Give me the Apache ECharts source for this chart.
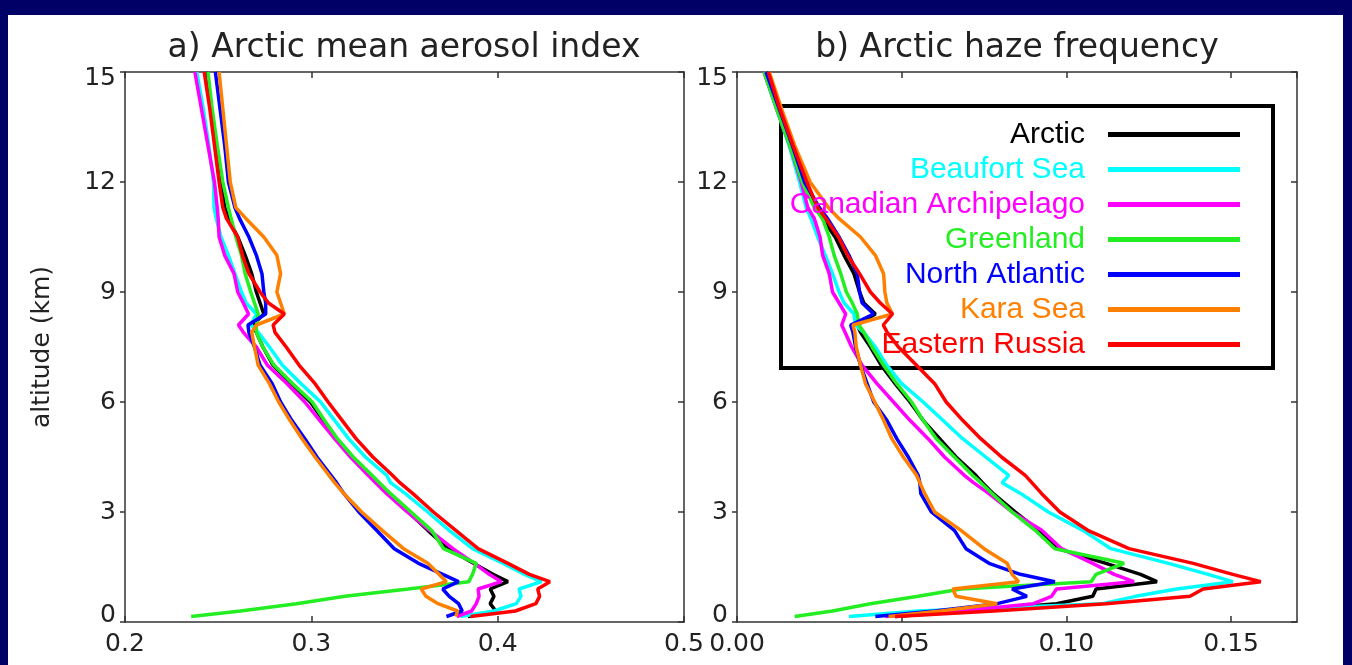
<!DOCTYPE html>
<html>
<head>
<meta charset="utf-8">
<script src="https://cdn.jsdelivr.net/npm/echarts@6/dist/echarts.min.js"></script>
<style>
html,body{margin:0;padding:0;background:#000066;width:1352px;height:665px;overflow:hidden}
#paper{position:absolute;left:8px;top:15px;width:1335px;height:650px;background:#ffffff}
#chart{position:absolute;left:0;top:0;width:1352px;height:665px}
</style>
</head>
<body>
<div id="paper"></div>
<div id="chart"></div>
<script>
// ---- data ----
const ALTITUDE_KM = [15, 14, 13, 12, 11.3, 11, 10.5, 10, 9.5, 9, 8.7, 8.4, 8.1, 7.9, 7.5, 7, 6.5, 6, 5.5, 5, 4.5, 4, 3.8, 3.5, 3, 2.5, 2, 1.6, 1.3, 1.1, 0.9, 0.7, 0.5, 0.3, 0.15];

const REGION_NAMES = ['Arctic', 'Beaufort Sea', 'Canadian Archipelago', 'Greenland', 'North Atlantic', 'Kara Sea', 'Eastern Russia'];
const REGION_COLORS = ['#000000', '#00ffff', '#ff00ff', '#22ee22', '#0000ff', '#ff8000', '#ff0000'];

// a) Arctic mean aerosol index
const AI_ARCTIC    = [0.2435,0.2462,0.249,0.2515,0.2535,0.2555,0.2605,0.2645,0.268,0.2705,0.2725,0.2745,0.2685,0.2705,0.274,0.2795,0.2895,0.2995,0.3065,0.3135,0.322,0.331,0.335,0.341,0.352,0.3625,0.3735,0.387,0.3975,0.4055,0.396,0.398,0.396,0.399,0.384];
const AI_BEAUFORT  = [0.2385,0.242,0.245,0.2475,0.2478,0.249,0.2515,0.2555,0.259,0.2625,0.265,0.2705,0.2675,0.2715,0.2775,0.2845,0.2945,0.305,0.3125,0.32,0.329,0.3405,0.3425,0.3505,0.3625,0.374,0.3865,0.403,0.4145,0.4235,0.4115,0.4125,0.41,0.398,0.38];
const AI_CANADIAN  = [0.2375,0.241,0.2445,0.248,0.2495,0.25,0.2505,0.2535,0.2585,0.2605,0.2635,0.2663,0.2609,0.2635,0.2705,0.2765,0.287,0.2965,0.3045,0.3125,0.321,0.3305,0.3345,0.3405,0.3515,0.3635,0.376,0.3875,0.3955,0.402,0.3895,0.39,0.3885,0.386,0.378];
const AI_GREENLAND = [0.2445,0.2468,0.2495,0.2525,0.2555,0.257,0.2595,0.2625,0.2645,0.2675,0.2695,0.2715,0.2705,0.2705,0.274,0.28,0.29,0.3005,0.307,0.314,0.3225,0.3325,0.3365,0.3425,0.3535,0.3645,0.371,0.3885,0.3865,0.3845,0.352,0.318,0.292,0.262,0.2355];
const AI_NATLANTIC = [0.2485,0.251,0.2535,0.2555,0.259,0.2615,0.2665,0.2705,0.2735,0.2745,0.2755,0.2755,0.266,0.2665,0.2695,0.2725,0.279,0.2835,0.2895,0.2965,0.303,0.3105,0.3135,0.3175,0.3255,0.335,0.3445,0.3575,0.3705,0.379,0.3705,0.374,0.379,0.381,0.3725];
const AI_KARA      = [0.2505,0.2525,0.2545,0.2565,0.2595,0.265,0.2745,0.2815,0.2835,0.2815,0.2835,0.2855,0.2705,0.268,0.2695,0.2715,0.2775,0.2825,0.2885,0.295,0.302,0.3095,0.3125,0.3175,0.327,0.338,0.3495,0.3625,0.3685,0.3725,0.359,0.3615,0.368,0.3785,0.3775];
const AI_ERUSSIA   = [0.2425,0.2455,0.248,0.2505,0.2525,0.2545,0.2605,0.263,0.2665,0.2725,0.277,0.2855,0.2795,0.2805,0.2865,0.2935,0.302,0.309,0.3165,0.324,0.333,0.3435,0.3475,0.3545,0.3655,0.3775,0.3895,0.4055,0.417,0.428,0.4215,0.4225,0.4205,0.4095,0.3855];

// b) Arctic haze frequency
const HF_ARCTIC    = [0.0088,0.0125,0.0165,0.0205,0.024,0.026,0.0298,0.0325,0.0355,0.0372,0.0385,0.042,0.0365,0.0375,0.0405,0.0438,0.048,0.0525,0.0565,0.0615,0.0665,0.0725,0.0745,0.0778,0.0845,0.0915,0.0975,0.112,0.1225,0.1275,0.109,0.108,0.097,0.07,0.048];
const HF_BEAUFORT  = [0.0082,0.012,0.0158,0.019,0.021,0.0225,0.0245,0.0268,0.029,0.031,0.0325,0.0355,0.036,0.0385,0.042,0.0455,0.05,0.0565,0.0625,0.0685,0.0755,0.0825,0.0805,0.0862,0.0945,0.105,0.1135,0.131,0.143,0.1505,0.1335,0.121,0.111,0.055,0.034];
const HF_CANADIAN  = [0.0082,0.012,0.016,0.0195,0.0215,0.0235,0.0252,0.026,0.028,0.029,0.031,0.033,0.0318,0.0328,0.0348,0.038,0.0425,0.0475,0.0525,0.058,0.063,0.069,0.0718,0.0765,0.0835,0.0925,0.0985,0.108,0.1145,0.1205,0.097,0.0955,0.09,0.068,0.045];
const HF_GREENLAND = [0.0082,0.012,0.016,0.0198,0.0235,0.026,0.028,0.0295,0.0315,0.0332,0.035,0.0365,0.037,0.0385,0.041,0.0445,0.0485,0.053,0.0565,0.0605,0.066,0.0715,0.074,0.0775,0.0835,0.0905,0.0965,0.1175,0.109,0.1075,0.068,0.055,0.0405,0.029,0.0175];
const HF_NATLANTIC = [0.0088,0.0128,0.0168,0.0205,0.025,0.0275,0.031,0.034,0.0365,0.0372,0.038,0.0415,0.0345,0.0352,0.036,0.0375,0.0395,0.0415,0.0455,0.0485,0.052,0.055,0.0555,0.0558,0.059,0.066,0.0695,0.0765,0.086,0.0965,0.0835,0.088,0.079,0.06,0.042];
const HF_KARA      = [0.0098,0.0135,0.0175,0.0222,0.0278,0.031,0.0375,0.042,0.0445,0.0449,0.0455,0.0472,0.0352,0.0358,0.0362,0.0375,0.039,0.0418,0.0445,0.047,0.0505,0.0545,0.0555,0.057,0.06,0.068,0.075,0.082,0.0835,0.0855,0.0655,0.0665,0.079,0.062,0.046];
const HF_ERUSSIA   = [0.0095,0.013,0.017,0.0212,0.0245,0.027,0.0308,0.0336,0.0372,0.0405,0.0435,0.0472,0.0444,0.0456,0.049,0.0545,0.06,0.0635,0.0685,0.074,0.0803,0.0875,0.0895,0.0925,0.098,0.1065,0.119,0.1385,0.1505,0.159,0.1415,0.1375,0.112,0.078,0.048];

const PANEL_TITLES = ['a) Arctic mean aerosol index', 'b) Arctic haze frequency'];
const Y_AXIS_NAME = 'altitude (km)';

// ---- build ----
const AEROSOL = [AI_ARCTIC, AI_BEAUFORT, AI_CANADIAN, AI_GREENLAND, AI_NATLANTIC, AI_KARA, AI_ERUSSIA];
const HAZE = [HF_ARCTIC, HF_BEAUFORT, HF_CANADIAN, HF_GREENLAND, HF_NATLANTIC, HF_KARA, HF_ERUSSIA];
const toPairs = vals => vals.map((v, i) => [v, ALTITUDE_KM[i]]);

const FRAME = {color: '#333333', width: 1.5};
const LABEL = {fontFamily: 'DejaVu Sans', fontSize: 25, color: '#222222'};
const RICH = {
  top: {fontFamily: 'DejaVu Sans', fontSize: 25, color: '#222222', padding: [12, 0, 0, 0]},
  bot: {fontFamily: 'DejaVu Sans', fontSize: 25, color: '#222222', padding: [0, 0, 14, 0]}
};

function xAx(grid, pos, min, max, interval, labels, fmt, showMax) {
  return {
    gridIndex: grid, type: 'value', position: pos, min: min, max: max, interval: interval,
    axisLine: {show: true, onZero: false, lineStyle: FRAME},
    axisTick: {show: true, inside: true, length: 6, lineStyle: FRAME},
    axisLabel: labels ? Object.assign({show: true, margin: 10, formatter: fmt, showMaxLabel: showMax, showMinLabel: true}, LABEL) : {show: false},
    splitLine: {show: false}
  };
}
function yAx(grid, pos, labels, withName) {
  const ax = {
    gridIndex: grid, type: 'value', position: pos, min: 0, max: 15, interval: 3,
    axisLine: {show: true, onZero: false, lineStyle: FRAME},
    axisTick: {show: true, inside: pos === 'right', length: pos === 'right' ? 6 : 5, lineStyle: FRAME},
    axisLabel: labels ? Object.assign({
      show: true, margin: 9, rich: RICH,
      formatter: v => v === 15 ? '{top|15}' : (v === 0 ? '{bot|0}' : String(v))
    }, LABEL) : {show: false},
    splitLine: {show: false}
  };
  if (withName) {
    ax.name = Y_AXIS_NAME;
    ax.nameLocation = 'middle';
    ax.nameGap = 70;
    ax.nameRotate = 90;
    ax.nameTextStyle = {fontFamily: 'DejaVu Sans', fontSize: 25, color: '#222222'};
  }
  return ax;
}

const series = [];
REGION_NAMES.forEach((name, k) => {
  const common = {
    type: 'line', name: name, symbol: 'none', showSymbol: false, animation: false,
    lineStyle: {width: 3.5, color: REGION_COLORS[k]}, itemStyle: {color: REGION_COLORS[k]},
    color: REGION_COLORS[k], emphasis: {disabled: true}, z: 3
  };
  series.push(Object.assign({}, common, {xAxisIndex: 0, yAxisIndex: 0, data: toPairs(AEROSOL[k])}));
  series.push(Object.assign({}, common, {xAxisIndex: 2, yAxisIndex: 2, data: toPairs(HAZE[k])}));
});

const chart = echarts.init(document.getElementById('chart'), null, {renderer: 'canvas'});
chart.setOption({
  animation: false,
  backgroundColor: 'transparent',
  grid: [
    {left: 125, top: 72, width: 559, height: 550, containLabel: false, outerBoundsMode: 'none'},
    {left: 737, top: 72, width: 560, height: 550, containLabel: false, outerBoundsMode: 'none'}
  ],
  xAxis: [
    xAx(0, 'bottom', 0.2, 0.5, 0.1, true, v => v.toFixed(1), true),
    xAx(0, 'top', 0.2, 0.5, 0.1, false),
    xAx(1, 'bottom', 0, 0.17, 0.05, true, v => v.toFixed(2), false),
    xAx(1, 'top', 0, 0.17, 0.05, false)
  ],
  yAxis: [
    yAx(0, 'left', true, true),
    yAx(0, 'right', false, false),
    yAx(1, 'left', true, false),
    yAx(1, 'right', false, false)
  ],
  legend: {
    orient: 'vertical', align: 'right', right: 112, top: 119.5, padding: 0,
    itemWidth: 132, itemHeight: 5, itemGap: 5, icon: 'rect', selectedMode: false,
    textStyle: {fontFamily: 'Liberation Sans', fontSize: 30, padding: [0, 18, 0, 0]},
    data: REGION_NAMES.map((n, k) => ({name: n, textStyle: {color: REGION_COLORS[k]}}))
  },
  graphic: [
    {type: 'rect', z: 1, shape: {x: 781, y: 106, width: 492, height: 262},
     style: {fill: 'none', stroke: '#000000', lineWidth: 4}},
    {type: 'text', x: 404, y: 48, style: {text: PANEL_TITLES[0], fontFamily: 'DejaVu Sans', fontSize: 33, fill: '#222222', align: 'center', verticalAlign: 'middle'}},
    {type: 'text', x: 1017, y: 48, style: {text: PANEL_TITLES[1], fontFamily: 'DejaVu Sans', fontSize: 33, fill: '#222222', align: 'center', verticalAlign: 'middle'}}
  ],
  series: series
});
</script>
</body>
</html>
